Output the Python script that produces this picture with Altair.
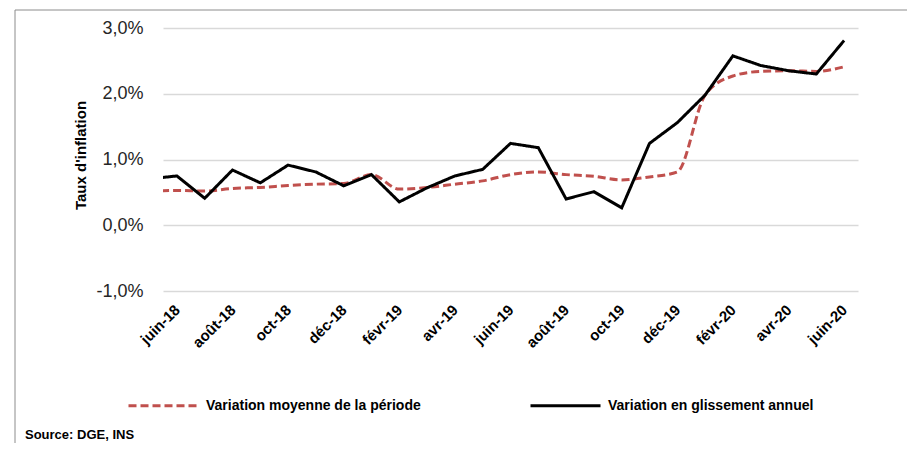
import json
import altair as alt
import pandas as pd

months = ["mai-18", "juin-18", "juil-18", "août-18", "sept-18", "oct-18", "nov-18", "déc-18",
          "janv-19", "févr-19", "mars-19", "avr-19", "mai-19", "juin-19", "juil-19", "août-19",
          "sept-19", "oct-19", "nov-19", "déc-19", "janv-20", "févr-20", "mars-20", "avr-20",
          "mai-20", "juin-20"]
moyenne = [0.51, 0.53, 0.52, 0.56, 0.575, 0.605, 0.625, 0.635, 0.77, 0.55, 0.575, 0.625, 0.675,
           0.77, 0.81, 0.77, 0.745, 0.69, 0.735, 0.81, 1.98, 2.27, 2.34, 2.35, 2.34, 2.41]
glissement = [0.705, 0.75, 0.41, 0.84, 0.645, 0.915, 0.81, 0.60, 0.77, 0.355, 0.57, 0.75, 0.85,
              1.245, 1.18, 0.40, 0.51, 0.265, 1.245, 1.56, 1.98, 2.576, 2.43, 2.35, 2.30, 2.81]
series_names = ["Variation moyenne de la période", "Variation en glissement annuel"]
series_colors = ["#C0504D", "#000000"]
y_ticks = [-1, 0, 1, 2, 3]
source_text = "Source: DGE, INS"

idx = [i - 1 for i in range(len(months))]
df = pd.DataFrame({
    "i": idx * 2,
    "mois": months * 2,
    "valeur": moyenne + glissement,
    "serie": [series_names[0]] * len(months) + [series_names[1]] * len(months),
})

x_ticks = list(range(0, 25, 2))
label_expr = json.dumps(months, ensure_ascii=False) + "[datum.value + 1]"
y_label_expr = ("(datum.value < 0 ? '-' : '') + "
                "replace(format(abs(datum.value), '.1f'), '.', ',') + '%'")

x_enc = alt.X("i:Q", scale=alt.Scale(domain=[-0.5, 24.5], nice=False, zero=False),
              axis=alt.Axis(values=x_ticks, labelExpr=label_expr, title=None, grid=False,
                            ticks=False, domain=False, labelAngle=-45, labelAlign="right",
                            labelBaseline="middle", labelPadding=16, labelFont="Liberation Sans",
                            labelFontWeight="bold", labelFontSize=15, labelColor="#000000"))
y_enc = alt.Y("valeur:Q", scale=alt.Scale(domain=[-1, 3], nice=False),
              axis=alt.Axis(values=y_ticks, title="Taux d'inflation",
                            labelExpr=y_label_expr,
                            grid=True, gridColor="#d9d9d9", gridWidth=1.5, ticks=False,
                            domain=False, labelPadding=20, labelFont="Liberation Sans",
                            labelFontSize=18, labelColor="#262626", titleFont="Liberation Sans",
                            titleFontSize=15, titleFontWeight="bold", titleColor="#000000",
                            titlePadding=7, titleY=127))
color_enc = alt.Color("serie:N", scale=alt.Scale(domain=series_names, range=series_colors),
                      legend=alt.Legend(title=None, orient="none", legendX=-36, legendY=341,
                                        direction="horizontal", symbolType="stroke",
                                        symbolSize=4900, symbolStrokeWidth=3, labelOffset=6,
                                        columnPadding=103, labelFont="Liberation Sans",
                                        labelFontWeight="bold", labelFontSize=14,
                                        labelColor="#000000", labelLimit=400, padding=0))
dash_enc = alt.StrokeDash("serie:N", scale=alt.Scale(domain=series_names, range=[[8, 4], [1, 0]]),
                          legend=None)

base = alt.Chart(df)
red = base.transform_filter(alt.datum.serie == series_names[0]).mark_line(
    strokeWidth=3, clip=True, interpolate="monotone").encode(
    x=x_enc, y=y_enc, color=color_enc, strokeDash=dash_enc)
black = base.transform_filter(alt.datum.serie == series_names[1]).mark_line(
    strokeWidth=3, clip=True).encode(
    x=x_enc, y=y_enc, color=color_enc, strokeDash=dash_enc)

frame = alt.Chart(pd.DataFrame({"a": [0]})).mark_rect(
    fill="transparent", stroke="#8c8c8c", strokeWidth=1).encode(
    x=alt.value(-148), x2=alt.value(900), y=alt.value(-18), y2=alt.value(700))

src = alt.Chart(pd.DataFrame({"t": [source_text]})).mark_text(
    align="left", baseline="alphabetic", font="Liberation Sans", fontWeight="bold",
    fontSize=13, color="#000000").encode(
    text="t:N", x=alt.value(-138), y=alt.value(411))

chart = alt.layer(frame, red, black, src).properties(
    width=695, height=263,
    autosize=alt.AutoSizeParams(type="none"),
    padding={"left": 155, "top": 20, "right": 49, "bottom": 152},
).configure_view(stroke=None)

chart.save("out.html", embed_options={"renderer": "svg", "actions": False})
